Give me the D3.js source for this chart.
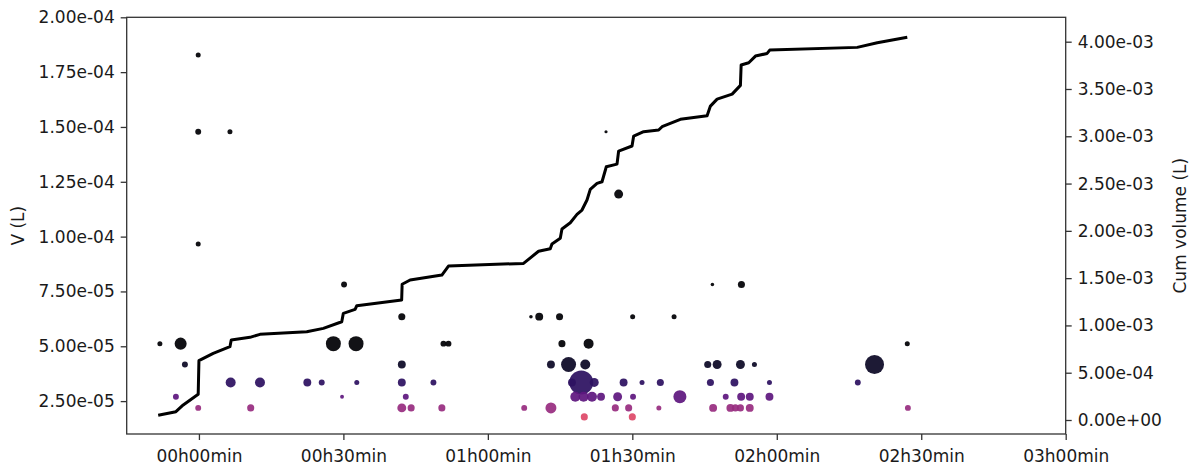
<!DOCTYPE html>
<html>
<head>
<meta charset="utf-8">
<script src="https://cdn.jsdelivr.net/npm/d3@7"></script>
<style>
  body { margin: 0; background: #fff; }
  svg text { font-family: "DejaVu Sans", sans-serif; fill: #1a1a1a; }
  .axis path, .axis line { stroke: #333; stroke-width: 1.3; }
</style>
</head>
<body>
<div id="chart"></div>
<script>
// event times (minutes from start), event volumes (L) and marker weights
const eventTimes = [
  -0.15,
  -0.15, 6.44, 84.54,
  87.16,
  -0.15,
  30.14, 106.63, 112.66,
  42.13, 68.95, 70.67, 74.89, 90.07, 98.67,
  -8.11, -3.80, 27.92, 32.63, 50.78, 51.82, 75.39, 80.92, 147.10,
  -2.91, 42.13, 73.10, 76.76, 80.23, 105.66, 107.61, 112.45, 115.36, 140.3,
  6.59, 12.68, 22.51, 25.50, 32.78, 42.13, 48.70, 77.47, 79.40, 82.10, 88.19, 92.02, 95.82, 106.22, 111.21, 118.48, 136.83,
  -4.78, 29.72, 42.96, 78.16, 79.88, 81.63, 83.50, 86.95, 90.15, 99.88, 109.40, 112.60, 114.39, 118.48,
  -0.15, 10.75, 42.13, 44.07, 50.45, 67.55, 73.10, 86.47, 89.24, 95.51, 106.78, 110.37, 111.41, 112.45, 114.39, 147.23,
  80.03, 90.0
];
const eventVolumes = [
  1.828e-4,
  1.478e-4, 1.478e-4, 1.478e-4,
  1.194e-4,
  9.66e-5,
  7.82e-5, 7.82e-5, 7.82e-5,
  6.35e-5, 6.35e-5, 6.35e-5, 6.35e-5, 6.35e-5, 6.35e-5,
  5.12e-5, 5.12e-5, 5.12e-5, 5.12e-5, 5.12e-5, 5.12e-5, 5.12e-5, 5.12e-5, 5.12e-5,
  4.17e-5, 4.17e-5, 4.17e-5, 4.17e-5, 4.17e-5, 4.17e-5, 4.17e-5, 4.17e-5, 4.17e-5, 4.17e-5,
  3.35e-5, 3.35e-5, 3.35e-5, 3.35e-5, 3.35e-5, 3.35e-5, 3.35e-5, 3.35e-5, 3.35e-5, 3.35e-5, 3.35e-5, 3.35e-5, 3.35e-5, 3.35e-5, 3.35e-5, 3.35e-5, 3.35e-5,
  2.70e-5, 2.70e-5, 2.70e-5, 2.70e-5, 2.70e-5, 2.70e-5, 2.70e-5, 2.70e-5, 2.70e-5, 2.70e-5, 2.70e-5, 2.70e-5, 2.70e-5, 2.70e-5,
  2.19e-5, 2.19e-5, 2.19e-5, 2.19e-5, 2.19e-5, 2.19e-5, 2.19e-5, 2.19e-5, 2.19e-5, 2.19e-5, 2.19e-5, 2.19e-5, 2.19e-5, 2.19e-5, 2.19e-5, 2.19e-5,
  1.78e-5, 1.78e-5
];
const eventWeights = [
  1,
  1.4, 1, 0.4,
  3.2,
  1,
  1.4, 0.5, 2,
  2, 0.5, 2.5, 2, 1, 1,
  1, 5.8, 9, 9, 1.4, 1.4, 2, 4, 1,
  1.4, 2.5, 2.5, 9, 4, 2, 3.2, 3.2, 1, 14.4,
  4, 4, 2.5, 1.4, 1, 2.5, 1.4, 2.5, 23, 3.2, 2.5, 1, 2, 2, 2.5, 1, 1.4,
  1.4, 0.6, 1.4, 4, 4, 4, 2.5, 3.2, 1.4, 6.8, 1.4, 2.5, 2.5, 2.5,
  1.4, 2, 3.2, 2, 2, 1.4, 4.8, 2, 2, 1, 2.5, 2.5, 2, 2, 2.5, 1.4,
  2, 2
];

// cumulative volume curve
const cumTimes = [
  -8.46, -4.78, -3.26, -0.15, 0.0, 2.97, 6.44, 6.71, 10.6, 12.68, 22.39, 25.84, 29.66, 29.99,
  32.43, 32.78, 42.1, 42.2, 43.86, 50.45, 51.82, 67.41, 70.53, 72.96, 73.31, 75.04, 75.39,
  77.12, 78.51, 79.55, 80.59, 81.27, 82.67, 83.71, 84.60, 86.82, 87.16, 89.94, 90.28, 92.35,
  95.47, 96.18, 99.98, 105.53, 106.22, 107.61, 110.73, 112.45, 112.60, 114.18, 115.57, 118.0,
  118.54, 136.71, 140.87, 147.10
];
const cumVolumes = [
  0.050e-3, 0.088e-3, 0.159e-3, 0.272e-3, 0.627e-3, 0.705e-3, 0.775e-3, 0.846e-3, 0.874e-3, 0.906e-3, 0.933e-3, 0.969e-3, 1.039e-3, 1.128e-3,
  1.170e-3, 1.208e-3, 1.269e-3, 1.435e-3, 1.480e-3, 1.533e-3, 1.628e-3, 1.656e-3, 1.784e-3, 1.810e-3, 1.861e-3, 1.921e-3, 2.019e-3,
  2.086e-3, 2.174e-3, 2.220e-3, 2.326e-3, 2.439e-3, 2.502e-3, 2.519e-3, 2.678e-3, 2.706e-3, 2.844e-3, 2.897e-3, 3.002e-3, 3.048e-3,
  3.066e-3, 3.101e-3, 3.179e-3, 3.217e-3, 3.319e-3, 3.393e-3, 3.446e-3, 3.538e-3, 3.753e-3, 3.777e-3, 3.848e-3, 3.876e-3,
  3.911e-3, 3.940e-3, 3.988e-3, 4.046e-3
];

const xTicks = [0, 30, 60, 90, 120, 150, 180];
const yTicks = [2.5e-5, 5e-5, 7.5e-5, 1e-4, 1.25e-4, 1.5e-4, 1.75e-4, 2e-4];
const y2Ticks = [0, 5e-4, 1e-3, 1.5e-3, 2e-3, 2.5e-3, 3e-3, 3.5e-3, 4e-3];

const margin = {top: 17.3, right: 130.3, bottom: 36, left: 126.7},
      width = 1196 - margin.left - margin.right,
      height = 470 - margin.top - margin.bottom;

const svg = d3.select('#chart').append('svg')
    .attr('width', 1196)
    .attr('height', 470);

const wrapper = svg.append('g')
    .attr('transform', 'translate(' + margin.left + ',' + margin.top + ')');

const xScale = d3.scaleLinear().domain([-15, 180]).range([0, width]),
      yScale = d3.scaleLinear().domain([1e-5, 2e-4]).range([height, 0]),
      y2Scale = d3.scaleLinear().domain([-0.148e-3, 4.258e-3]).range([height, 0]),
      rScale = d3.scaleSqrt().domain([0, 1]).range([0, 2.5]),
      // colour follows 1/V through the magma map, small drops are lighter
      colorScale = d3.scaleLinear().domain([1 / 5.12e-5, 1 / 1.78e-5]).range([0.0, 0.6]).clamp(true);

// matplotlib-like scientific labels, e.g. 2.50e-05
function sci(v) {
  const parts = v.toExponential(2).split('e');
  let e = parseInt(parts[1], 10);
  const sign = e < 0 ? '-' : '+';
  e = Math.abs(e);
  return parts[0] + 'e' + sign + (e < 10 ? '0' + e : e);
}

function hm(m) {
  const h = Math.floor(m / 60), mm = m % 60;
  return (h < 10 ? '0' + h : h) + 'h' + (mm < 10 ? '0' + mm : mm) + 'min';
}

const points = eventTimes.map(function(t, i) {
  return {t: t, v: eventVolumes[i], w: eventWeights[i]};
});
const cum = cumTimes.map(function(t, i) { return {t: t, c: cumVolumes[i]}; });

wrapper.selectAll('circle')
    .data(points)
  .enter().append('circle')
    .attr('cx', function(d) { return xScale(d.t); })
    .attr('cy', function(d) { return yScale(d.v); })
    .attr('r', function(d) { return rScale(d.w); })
    .attr('fill', function(d) { return d3.interpolateMagma(colorScale(1 / d.v)); })
    .attr('fill-opacity', 0.93);

const line = d3.line()
    .x(function(d) { return xScale(d.t); })
    .y(function(d) { return y2Scale(d.c); });

wrapper.append('path')
    .datum(cum)
    .attr('fill', 'none')
    .attr('stroke', '#000')
    .attr('stroke-width', 3)
    .attr('stroke-linejoin', 'round')
    .attr('d', line);

// frame
wrapper.append('rect')
    .attr('width', width).attr('height', height)
    .attr('fill', 'none').attr('stroke', '#333').attr('stroke-width', 1.3);

wrapper.append('g')
    .attr('class', 'axis')
    .attr('transform', 'translate(0,' + height + ')')
    .call(d3.axisBottom(xScale).tickValues(xTicks).tickFormat(hm).tickSize(6).tickPadding(10))
    .call(function(g) { g.select('.domain').remove(); });

wrapper.append('g')
    .attr('class', 'axis')
    .call(d3.axisLeft(yScale).tickValues(yTicks).tickFormat(sci).tickSize(6).tickPadding(6))
    .call(function(g) { g.select('.domain').remove(); });

wrapper.append('g')
    .attr('class', 'axis')
    .attr('transform', 'translate(' + width + ',0)')
    .call(d3.axisRight(y2Scale).tickValues(y2Ticks).tickFormat(sci).tickSize(6).tickPadding(6))
    .call(function(g) { g.select('.domain').remove(); });

wrapper.selectAll('.axis text')
    .style('font-size', '17px');

svg.append('text')
    .attr('transform', 'translate(24,' + (margin.top + height / 2) + ') rotate(-90)')
    .style('text-anchor', 'middle')
    .style('font-size', '17px')
    .text('V (L)');

svg.append('text')
    .attr('transform', 'translate(1186,' + (margin.top + height / 2) + ') rotate(-90)')
    .style('text-anchor', 'middle')
    .style('font-size', '17px')
    .text('Cum volume (L)');
</script>
</body>
</html>
